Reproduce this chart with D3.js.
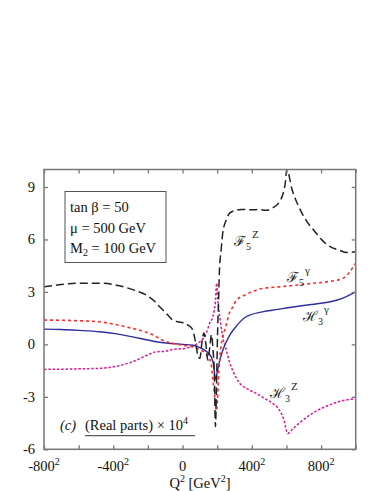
<!DOCTYPE html>
<html>
<head>
<meta charset="utf-8">
<script src="https://cdn.jsdelivr.net/npm/d3@7"></script>
<style>
  body { margin: 0; background: #fff; }
  svg { display: block; font-family: "Liberation Serif", "DejaVu Serif", serif; }
</style>
</head>
<body>
<div class="main-container"></div>
<script>
// x is signed Q (GeV), labelled as +-Q^2
var xTicks = [-800, -600, -400, -200, 0, 200, 400, 600, 800, 1000];
var xLabelTicks = [-800, -400, 0, 400, 800];
var yTicks = [-6, -3, 0, 3, 6, 9];

var legendLines = ["tan \u03b2 = 50", "\u03bc = 500 GeV", "M"];

// F5^Z (black dashed)
var f5zQ = [-800, -700, -600, -478, -363, -280, -207, -160, -132, -94, -56, -27, 0, 21, 31, 55, 69, 79, 90, 100, 112, 123, 135, 146, 157, 167, 176, 184, 190, 196, 202, 208, 213, 223, 232, 252, 271, 309, 338, 400, 444, 482, 520, 559, 580, 593, 602, 634, 670, 713, 760, 806, 850, 904, 950, 1000];
var f5zV = [3.29, 3.42, 3.5, 3.5, 3.35, 3.1, 2.8, 2.45, 2.15, 1.77, 1.39, 1.29, 1.25, 1.2, 1.1, 0.9, 0.43, -0.1, -0.7, -0.8, 0.1, 0.65, 0.0, -0.9, -0.2, 0.55, -0.3, -1.8, -4.7, -2.5, 0.5, 2.5, 4.2, 5.4, 6.34, 7.1, 7.49, 7.67, 7.71, 7.7, 7.71, 7.67, 7.8, 8.15, 8.6, 9.2, 10, 8.8, 7.9, 7.1, 6.5, 5.96, 5.6, 5.39, 5.25, 5.3];

// F5^gamma (red dotted)
var f5gQ = [-800, -700, -600, -478, -380, -288, -190, -94, 0, 60, 100, 140, 165, 175, 184, 195, 202, 210, 220, 235, 252, 271, 288, 309, 367, 425, 461, 559, 650, 751, 847, 922, 962, 1000];
var f5gV = [1.39, 1.38, 1.35, 1.29, 1.12, 0.91, 0.63, 0.15, -0.04, -0.15, -0.3, -0.6, -1.1, -2.0, -2.8, -3.8, -3.2, -1.5, -0.3, 0.5, 1.1, 1.8, 2.1, 2.5, 2.85, 3.1, 3.2, 3.29, 3.38, 3.49, 3.6, 3.75, 4.1, 4.65];

// H3^gamma (blue solid)
var h3gQ = [-800, -700, -600, -478, -380, -288, -200, -132, -60, 0, 60, 88, 127, 165, 180, 190, 200, 213, 232, 271, 300, 367, 461, 550, 616, 700, 789, 860, 922, 960, 1000];
var h3gV = [0.87, 0.85, 0.8, 0.72, 0.6, 0.43, 0.25, 0.12, 0.05, 0.0, -0.05, -0.13, -0.33, -0.7, -1.2, -2.0, -1.6, -1.0, -0.35, 0.5, 0.91, 1.58, 1.86, 2.0, 2.11, 2.22, 2.34, 2.45, 2.63, 2.8, 3.0];

// H3^Z (magenta dotted)
var h3zQ = [-800, -700, -600, -478, -380, -288, -200, -150, -104, -58, 12, 60, 88, 120, 137, 156, 175, 190, 197, 203, 210, 223, 232, 252, 271, 290, 328, 375, 425, 475, 520, 559, 585, 607, 640, 674, 751, 847, 943, 1000];
var h3zV = [-1.43, -1.42, -1.4, -1.37, -1.25, -0.99, -0.6, -0.42, -0.4, -0.29, -0.23, -0.1, 0.06, 0.35, 0.63, 1.2, 1.58, 2.5, 3.5, 2.6, 2.0, 1.0, 0.43, -0.3, -1.0, -1.5, -2.2, -2.55, -2.8, -3.1, -3.37, -3.75, -4.3, -5.09, -4.8, -4.5, -3.94, -3.47, -3.18, -3.12];

var width = 382, height = 491;
var plotLeft = 44, plotRight = 355.7, plotTop = 169.5, plotBottom = 449.3;

var svg = d3.select(".main-container")
    .append("svg")
    .attr("width", width)
    .attr("height", height);

var x = d3.scaleLinear().domain([-800, 1000]).range([plotLeft, plotRight]);
var y = d3.scaleLinear().domain([-6, 10]).range([plotBottom, plotTop]);

svg.append("defs").append("clipPath").attr("id", "plot")
    .append("rect")
    .attr("x", plotLeft).attr("y", plotTop)
    .attr("width", plotRight - plotLeft).attr("height", plotBottom - plotTop);

// curves
var line = d3.line()
    .x(function (d) { return x(d[0]); })
    .y(function (d) { return y(d[1]); })
    .curve(d3.curveMonotoneX);

function pairs(q, v) {
    return q.map(function (d, i) { return [d, v[i]]; });
}

var curves = svg.append("g").attr("clip-path", "url(#plot)");

curves.append("path")
    .attr("d", line(pairs(h3zQ, h3zV)))
    .style("fill", "none").style("stroke", "#e0169a")
    .style("stroke-width", 1.5).style("stroke-dasharray", "2.5,1.8");

curves.append("path")
    .attr("d", line(pairs(h3gQ, h3gV)))
    .style("fill", "none").style("stroke", "#2e2e9e")
    .style("stroke-width", 1.4);

curves.append("path")
    .attr("d", line(pairs(f5gQ, f5gV)))
    .style("fill", "none").style("stroke", "#ff2b2b")
    .style("stroke-width", 1.6).style("stroke-dasharray", "3,3");

curves.append("path")
    .attr("d", line(pairs(f5zQ, f5zV)))
    .style("fill", "none").style("stroke", "#222")
    .style("stroke-width", 1.5).style("stroke-dasharray", "8,4");

// frame and ticks
var axisColor = "#777";
svg.append("rect")
    .attr("x", plotLeft).attr("y", plotTop)
    .attr("width", plotRight - plotLeft).attr("height", plotBottom - plotTop)
    .style("fill", "none").style("stroke", axisColor).style("stroke-width", 1.5);

function styleAxis(g) {
    g.select(".domain").remove();
    g.selectAll(".tick line").style("stroke", axisColor).style("stroke-width", 1.3);
    g.selectAll(".tick text").remove();
}

svg.append("g").attr("transform", "translate(0," + plotBottom + ")")
    .call(d3.axisBottom(x).tickValues(xTicks).tickSize(-4)).call(styleAxis);
svg.append("g").attr("transform", "translate(0," + plotTop + ")")
    .call(d3.axisTop(x).tickValues(xTicks).tickSize(-4)).call(styleAxis);
svg.append("g").attr("transform", "translate(" + plotLeft + ",0)")
    .call(d3.axisLeft(y).tickValues(yTicks).tickSize(-4)).call(styleAxis);
svg.append("g").attr("transform", "translate(" + plotRight + ",0)")
    .call(d3.axisRight(y).tickValues(yTicks).tickSize(-4)).call(styleAxis);

// tick labels
svg.selectAll(".ylab")
    .data(yTicks)
    .enter()
    .append("text")
    .attr("class", "ylab")
    .attr("x", 35)
    .attr("y", function (d) { return y(d) + 5; })
    .attr("text-anchor", "end")
    .style("font-size", "14.5px")
    .style("fill", "#111")
    .text(function (d) { return d; });

var xl = svg.selectAll(".xlab")
    .data(xLabelTicks)
    .enter()
    .append("text")
    .attr("class", "xlab")
    .attr("x", function (d) { return x(d); })
    .attr("y", 471)
    .attr("text-anchor", "middle")
    .style("font-size", "14.5px")
    .style("fill", "#111");
xl.append("tspan").text(function (d) { return d; });
xl.filter(function (d) { return d !== 0; })
    .append("tspan").attr("dy", -6).style("font-size", "10px").text("2");

// axis title
var xt = svg.append("text")
    .attr("x", 200).attr("y", 488)
    .attr("text-anchor", "middle")
    .style("font-size", "14.5px").style("fill", "#111");
xt.append("tspan").text("Q");
xt.append("tspan").attr("dy", -6).style("font-size", "10px").text("2");
xt.append("tspan").attr("dy", 6).text(" [GeV");
xt.append("tspan").attr("dy", -6).style("font-size", "10px").text("2");
xt.append("tspan").attr("dy", 6).text("]");

// legend box
svg.append("rect")
    .attr("x", 65).attr("y", 191.5)
    .attr("width", 101).attr("height", 71)
    .style("fill", "#fff").style("stroke", "#555").style("stroke-width", 1);

svg.append("text").attr("x", 70).attr("y", 212)
    .style("font-size", "14.5px").style("fill", "#111")
    .text(legendLines[0]);
svg.append("text").attr("x", 70).attr("y", 233)
    .style("font-size", "14.5px").style("fill", "#111")
    .text(legendLines[1]);
var m2 = svg.append("text").attr("x", 70).attr("y", 253)
    .style("font-size", "14.5px").style("fill", "#111");
m2.append("tspan").text(legendLines[2]);
m2.append("tspan").attr("dy", 3).style("font-size", "10px").text("2");
m2.append("tspan").attr("dy", -3).text(" = 100 GeV");

// panel note
svg.append("text").attr("x", 60).attr("y", 430)
    .style("font-size", "14.5px").style("font-style", "italic").style("fill", "#111")
    .text("(c)");
var note = svg.append("text").attr("x", 85).attr("y", 430)
    .style("font-size", "14.5px").style("fill", "#111");
note.append("tspan").text("(Real parts) \u00d7 10");
note.append("tspan").attr("dy", -6).style("font-size", "10px").text("4");
svg.append("line")
    .attr("x1", 85).attr("x2", 195).attr("y1", 435.7).attr("y2", 435.7)
    .style("stroke", "#333").style("stroke-width", 1);

// curve labels
function curveLabel(px, py, letter, sub, sup) {
    var t = svg.append("text").attr("x", px).attr("y", py)
        .style("font-size", "14px").style("fill", "#222");
    t.append("tspan").text(letter);
    t.append("tspan").attr("dy", 4).style("font-size", "10px").text(sub);
    t.append("tspan").attr("dy", -12).attr("dx", 1).style("font-size", "11px").text(sup);
}
curveLabel(234, 246, "\u2131", "5", "Z");
curveLabel(287, 282, "\u2131", "5", "\u03b3");
curveLabel(303, 321, "\u210b", "3", "\u03b3");
curveLabel(270, 398, "\u210b", "3", "Z");
</script>
</body>
</html>
